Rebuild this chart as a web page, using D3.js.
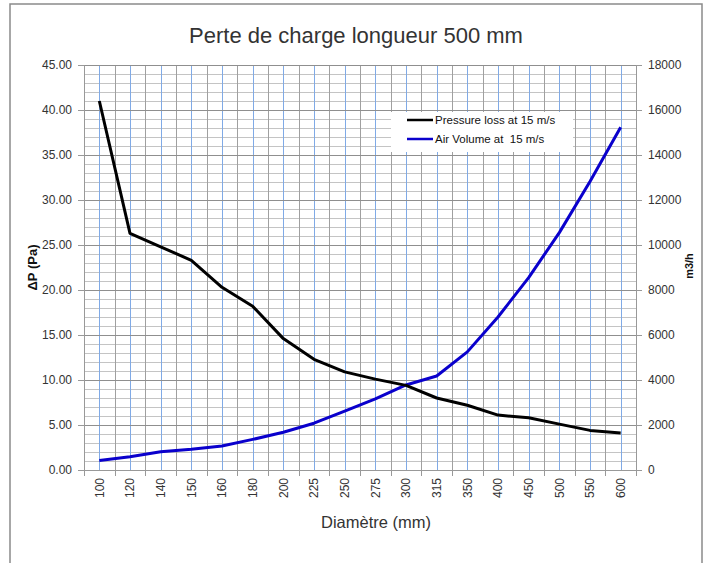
<!DOCTYPE html>
<meta charset="utf-8">
<style>
  body { margin: 0; background: #fff; }
  text { font-family: "Liberation Sans", Arial, sans-serif; }
</style>
<script src="https://d3js.org/d3.v7.min.js"></script>
<div id="chart"></div>
<script>
// diameters (mm) used as categories
var diameters = ["100","120","140","150","160","180","200","225","250","275","300","315","350","400","450","500","550","600"];
// pressure loss (Pa) at 15 m/s, left axis
var pressureLoss = [41.0, 26.3, 24.8, 23.3, 20.3, 18.2, 14.6, 12.3, 10.9, 10.1, 9.4, 8.0, 7.2, 6.1, 5.8, 5.1, 4.4, 4.1];
// air volume (m3/h) at 15 m/s, right axis
var airVolume = [420, 590, 810, 920, 1070, 1360, 1680, 2080, 2620, 3160, 3780, 4180, 5250, 6800, 8550, 10550, 12820, 15230];
var leftTicks = [0, 5, 10, 15, 20, 25, 30, 35, 40, 45];
var rightTicks = [0, 2000, 4000, 6000, 8000, 10000, 12000, 14000, 16000, 18000];

var W = 707, H = 563;
var margin = {top: 65, right: 71, bottom: 93, left: 84},
    width = W - margin.left - margin.right,
    height = H - margin.top - margin.bottom;

var root = d3.select("#chart").append("svg")
    .attr("width", W)
    .attr("height", H);

// outer frame
root.append("rect")
  .attr("x", 10).attr("y", 4)
  .attr("width", 692).attr("height", 580)
  .attr("fill", "none")
  .attr("stroke", "#8a8a8a")
  .attr("stroke-width", 1.5);

var svg = root.append("g")
  .attr("transform", "translate(" + margin.left + "," + margin.top + ")");

var x = d3.scaleBand().domain(diameters).range([0, width]);
var y = d3.scaleLinear().domain([0, 45]).range([height, 0]);
var y2 = d3.scaleLinear().domain([0, 18000]).range([height, 0]);

// minor horizontal grid, every 1 Pa
svg.append("g")
  .selectAll("line")
  .data(d3.range(0, 46, 1).filter(function(d){ return d % 5 != 0; }))
  .enter().append("line")
    .attr("x1", 0).attr("x2", width)
    .attr("y1", function(d){ return y(d) + 0.5; })
    .attr("y2", function(d){ return y(d) + 0.5; })
    .attr("stroke", "#c4c4c4");

// vertical grid: gray at band edges, blue at category centers
svg.append("g")
  .selectAll("line")
  .data(diameters.slice(1))
  .enter().append("line")
    .attr("x1", function(d){ return Math.round(x(d)) + 0.5; })
    .attr("x2", function(d){ return Math.round(x(d)) + 0.5; })
    .attr("y1", 0).attr("y2", height)
    .attr("stroke", "#a0a0a0");
svg.append("g")
  .selectAll("line")
  .data(diameters)
  .enter().append("line")
    .attr("x1", function(d){ return Math.round(x(d) + x.bandwidth()/2) + 0.5; })
    .attr("x2", function(d){ return Math.round(x(d) + x.bandwidth()/2) + 0.5; })
    .attr("y1", 0).attr("y2", height)
    .attr("stroke", "#80aae6");

// major horizontal grid
svg.append("g")
  .selectAll("line")
  .data(leftTicks.slice(1))
  .enter().append("line")
    .attr("x1", 0).attr("x2", width)
    .attr("y1", function(d){ return y(d) + 0.5; })
    .attr("y2", function(d){ return y(d) + 0.5; })
    .attr("stroke", "#8f8f8f");
// right edge line
svg.append("line")
  .attr("x1", width + 0.5).attr("x2", width + 0.5)
  .attr("y1", 0).attr("y2", height)
  .attr("stroke", "#a0a0a0");

// axes
var left = svg.append("g")
  .call(d3.axisLeft(y).tickValues(leftTicks).tickFormat(d3.format(".2f")).tickSize(6).tickPadding(6));
var right = svg.append("g")
  .attr("transform", "translate(" + width + ",0)")
  .call(d3.axisRight(y2).tickValues(rightTicks).tickFormat(d3.format("d")).tickSize(6).tickPadding(6));
var bottom = svg.append("g")
  .attr("transform", "translate(0," + height + ")")
  .call(d3.axisBottom(x).tickSize(0).tickPadding(0));
bottom.selectAll("text")
  .attr("transform", "rotate(-90)")
  .attr("text-anchor", "end")
  .attr("x", -8)
  .attr("y", 0)
  .attr("dy", "0.35em");
// bottom ticks at band edges
bottom.selectAll(".edge")
  .data(diameters.concat(["end"]))
  .enter().append("line")
    .attr("class", "edge")
    .attr("x1", function(d, i){ return Math.round(i * x.bandwidth()) + 0.5; })
    .attr("x2", function(d, i){ return Math.round(i * x.bandwidth()) + 0.5; })
    .attr("y1", 0).attr("y2", 6)
    .attr("stroke", "#999");

[left, right, bottom].forEach(function(a){
  a.selectAll(".domain").attr("stroke", "#999");
  a.selectAll(".tick line").attr("stroke", "#999");
  a.selectAll("text").style("font-size", "12px").attr("fill", "#333");
});

// lines
var lineP = d3.line()
  .x(function(d, i){ return x(diameters[i]) + x.bandwidth()/2; })
  .y(function(d){ return y(d); });
var lineV = d3.line()
  .x(function(d, i){ return x(diameters[i]) + x.bandwidth()/2; })
  .y(function(d){ return y2(d); });

svg.append("path")
  .datum(airVolume)
  .attr("d", lineV)
  .attr("fill", "none")
  .attr("stroke", "#0a00cc")
  .attr("stroke-width", 3)
  .attr("stroke-linejoin", "round");
svg.append("path")
  .datum(pressureLoss)
  .attr("d", lineP)
  .attr("fill", "none")
  .attr("stroke", "#000")
  .attr("stroke-width", 3)
  .attr("stroke-linejoin", "round");

// legend
var legend = root.append("g").attr("transform", "translate(391,112)");
legend.append("rect")
  .attr("width", 182).attr("height", 40)
  .attr("fill", "#fff");
var items = [{name: "Pressure loss at 15 m/s", color: "#000"},
             {name: "Air Volume at  15 m/s", color: "#0a00cc"}];
legend.selectAll("g.item")
  .data(items)
  .enter().append("g")
    .attr("class", "item")
    .attr("transform", function(d, i){ return "translate(0," + (8 + i * 19) + ")"; })
    .each(function(d){
      var g = d3.select(this);
      g.append("line")
        .attr("x1", 16).attr("x2", 42)
        .attr("y1", 0).attr("y2", 0)
        .attr("stroke", d.color)
        .attr("stroke-width", 2.5);
      g.append("text")
        .attr("x", 44).attr("y", 0).attr("dy", "0.35em")
        .style("font-size", "11.5px")
        .style("white-space", "pre")
        .attr("fill", "#111")
        .text(d.name);
    });

// title and axis labels
root.append("text")
  .attr("x", 356).attr("y", 43)
  .attr("text-anchor", "middle")
  .style("font-size", "22px")
  .attr("fill", "#333")
  .text("Perte de charge longueur 500 mm");
root.append("text")
  .attr("x", 376).attr("y", 528)
  .attr("text-anchor", "middle")
  .style("font-size", "16.5px")
  .attr("fill", "#333")
  .text("Diamètre (mm)");
root.append("text")
  .attr("transform", "translate(37," + (margin.top + height/2) + ") rotate(-90)")
  .attr("text-anchor", "middle")
  .style("font-size", "13px")
  .style("font-weight", "bold")
  .attr("fill", "#111")
  .text("ΔP (Pa)");
root.append("text")
  .attr("transform", "translate(693,266) rotate(-90)")
  .attr("text-anchor", "middle")
  .style("font-size", "11px")
  .style("font-weight", "bold")
  .attr("fill", "#111")
  .text("m3/h");
</script>
